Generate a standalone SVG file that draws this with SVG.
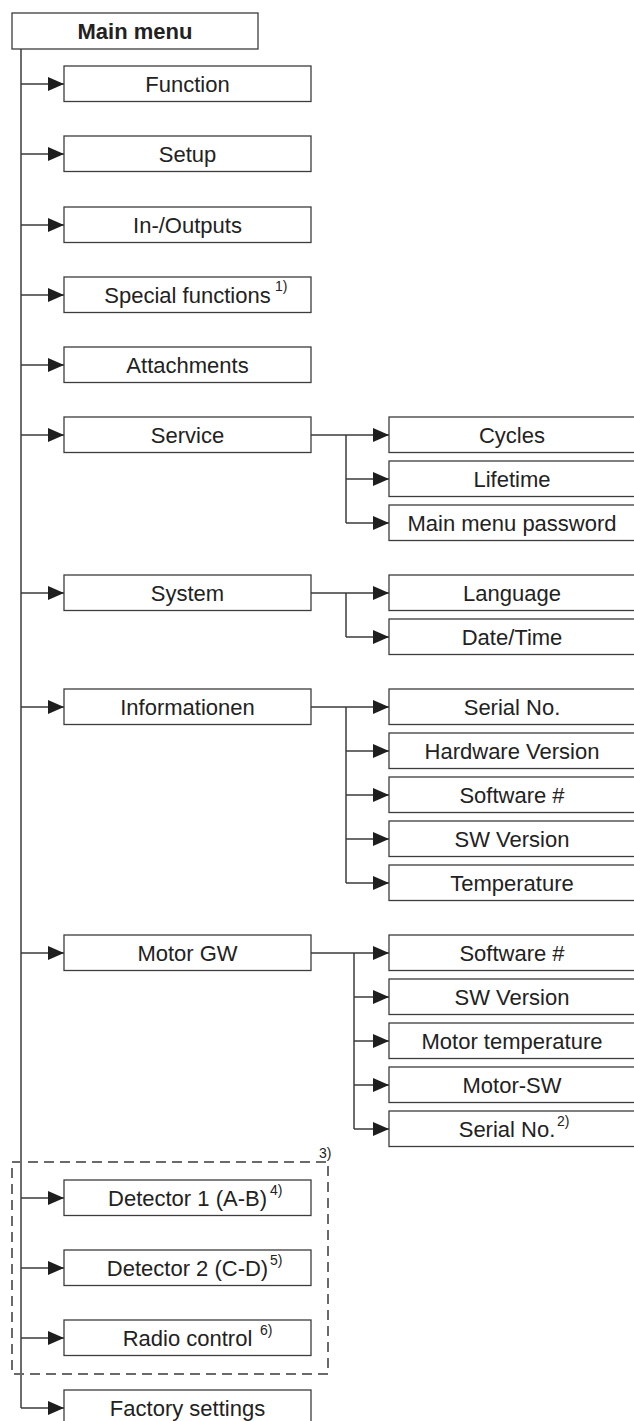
<svg xmlns="http://www.w3.org/2000/svg" width="634" height="1421" viewBox="0 0 634 1421">
<style>
.box{fill:#fff;stroke:#3c3c3c;stroke-width:1.3}
.t{font-family:"Liberation Sans",Arial,sans-serif;font-size:22px;fill:#222;text-anchor:middle}
.b{font-weight:bold}
.sup{font-family:"Liberation Sans",Arial,sans-serif;font-size:14px;fill:#222}
.ln{fill:none;stroke:#2e2e2e;stroke-width:1.4}
.ar{fill:none;stroke:#3a3a3a;stroke-width:1.4;marker-end:url(#ah)}
.dash{fill:none;stroke:#6a6a6a;stroke-width:2;stroke-dasharray:10 6}
</style>
<defs>
<marker id="ah" markerUnits="userSpaceOnUse" markerWidth="16" markerHeight="14" refX="16" refY="7" orient="auto">
<path d="M0,0 L16,7 L0,14 Z" fill="#1e1e1e"/>
</marker>
</defs>
<rect width="634" height="1421" fill="#fff"/>
<g id="connectors">
<path class="ln" d="M21,49 V1408"/>
<path class="ar" d="M21,84 H64"/>
<path class="ar" d="M21,154 H64"/>
<path class="ar" d="M21,225 H64"/>
<path class="ar" d="M21,295 H64"/>
<path class="ar" d="M21,365 H64"/>
<path class="ar" d="M21,435 H64"/>
<path class="ar" d="M21,593 H64"/>
<path class="ar" d="M21,707 H64"/>
<path class="ar" d="M21,953 H64"/>
<path class="ar" d="M21,1198 H64"/>
<path class="ar" d="M21,1268 H64"/>
<path class="ar" d="M21,1338 H64"/>
<path class="ar" d="M21,1408 H64"/>
<path class="ln" d="M346,435 V523"/>
<path class="ar" d="M311,435 H389"/>
<path class="ar" d="M346,479 H389"/>
<path class="ar" d="M346,523 H389"/>
<path class="ln" d="M346,593 V637"/>
<path class="ar" d="M311,593 H389"/>
<path class="ar" d="M346,637 H389"/>
<path class="ln" d="M346,707 V883"/>
<path class="ar" d="M311,707 H389"/>
<path class="ar" d="M346,751 H389"/>
<path class="ar" d="M346,795 H389"/>
<path class="ar" d="M346,839 H389"/>
<path class="ar" d="M346,883 H389"/>
<path class="ln" d="M354,953 V1129"/>
<path class="ar" d="M311,953 H389"/>
<path class="ar" d="M354,997 H389"/>
<path class="ar" d="M354,1041 H389"/>
<path class="ar" d="M354,1085 H389"/>
<path class="ar" d="M354,1129 H389"/>
</g>
<g id="group-optional">
<rect class="dash" x="12" y="1162" width="316" height="212"/>
<text class="sup" x="319" y="1158">3)</text>
</g>
<g id="main-menu"><rect class="box" x="12" y="13" width="246" height="36"/><text class="t b" x="135" y="39">Main menu</text></g>
<g id="function"><rect class="box" x="64" y="66" width="247" height="35.5"/><text class="t" x="187.5" y="92">Function</text></g>
<g id="setup"><rect class="box" x="64" y="136" width="247" height="35.5"/><text class="t" x="187.5" y="162">Setup</text></g>
<g id="inoutputs"><rect class="box" x="64" y="207" width="247" height="35.5"/><text class="t" x="187.5" y="233">In-/Outputs</text></g>
<g id="special"><rect class="box" x="64" y="277" width="247" height="35.5"/><text class="t" x="187.5" y="303">Special functions</text><text class="sup" x="275" y="291">1)</text></g>
<g id="attachments"><rect class="box" x="64" y="347" width="247" height="35.5"/><text class="t" x="187.5" y="373">Attachments</text></g>
<g id="service"><rect class="box" x="64" y="417" width="247" height="35.5"/><text class="t" x="187.5" y="443">Service</text></g>
<g id="system"><rect class="box" x="64" y="575" width="247" height="35.5"/><text class="t" x="187.5" y="601">System</text></g>
<g id="informationen"><rect class="box" x="64" y="689" width="247" height="35.5"/><text class="t" x="187.5" y="715">Informationen</text></g>
<g id="motorgw"><rect class="box" x="64" y="935" width="247" height="35.5"/><text class="t" x="187.5" y="961">Motor GW</text></g>
<g id="detector1"><rect class="box" x="64" y="1180" width="247" height="35.5"/><text class="t" x="187.5" y="1206">Detector 1 (A-B)</text><text class="sup" x="270" y="1195">4)</text></g>
<g id="detector2"><rect class="box" x="64" y="1250" width="247" height="35.5"/><text class="t" x="187.5" y="1276">Detector 2 (C-D)</text><text class="sup" x="270" y="1265">5)</text></g>
<g id="radio"><rect class="box" x="64" y="1320" width="247" height="35.5"/><text class="t" x="187.5" y="1346">Radio control</text><text class="sup" x="260" y="1335">6)</text></g>
<g id="factory"><rect class="box" x="64" y="1390" width="247" height="36"/><text class="t" x="187.5" y="1416">Factory settings</text></g>
<g id="cycles"><rect class="box" x="389" y="417" width="250" height="35.5"/><text class="t" x="512" y="443">Cycles</text></g>
<g id="lifetime"><rect class="box" x="389" y="461" width="250" height="35.5"/><text class="t" x="512" y="487">Lifetime</text></g>
<g id="mmpassword"><rect class="box" x="389" y="505" width="250" height="35.5"/><text class="t" x="512" y="531">Main menu password</text></g>
<g id="language"><rect class="box" x="389" y="575" width="250" height="35.5"/><text class="t" x="512" y="601">Language</text></g>
<g id="datetime"><rect class="box" x="389" y="619" width="250" height="35.5"/><text class="t" x="512" y="645">Date/Time</text></g>
<g id="serial"><rect class="box" x="389" y="689" width="250" height="35.5"/><text class="t" x="512" y="715">Serial No.</text></g>
<g id="hwversion"><rect class="box" x="389" y="733" width="250" height="35.5"/><text class="t" x="512" y="759">Hardware Version</text></g>
<g id="software1"><rect class="box" x="389" y="777" width="250" height="35.5"/><text class="t" x="512" y="803">Software #</text></g>
<g id="swversion1"><rect class="box" x="389" y="821" width="250" height="35.5"/><text class="t" x="512" y="847">SW Version</text></g>
<g id="temperature"><rect class="box" x="389" y="865" width="250" height="35.5"/><text class="t" x="512" y="891">Temperature</text></g>
<g id="software2"><rect class="box" x="389" y="935" width="250" height="35.5"/><text class="t" x="512" y="961">Software #</text></g>
<g id="swversion2"><rect class="box" x="389" y="979" width="250" height="35.5"/><text class="t" x="512" y="1005">SW Version</text></g>
<g id="motortemp"><rect class="box" x="389" y="1023" width="250" height="35.5"/><text class="t" x="512" y="1049">Motor temperature</text></g>
<g id="motorsw"><rect class="box" x="389" y="1067" width="250" height="35.5"/><text class="t" x="512" y="1093">Motor-SW</text></g>
<g id="serial2"><rect class="box" x="389" y="1111" width="250" height="35.5"/><text class="t" x="507" y="1137">Serial No.</text><text class="sup" x="557" y="1126">2)</text></g>
</svg>
